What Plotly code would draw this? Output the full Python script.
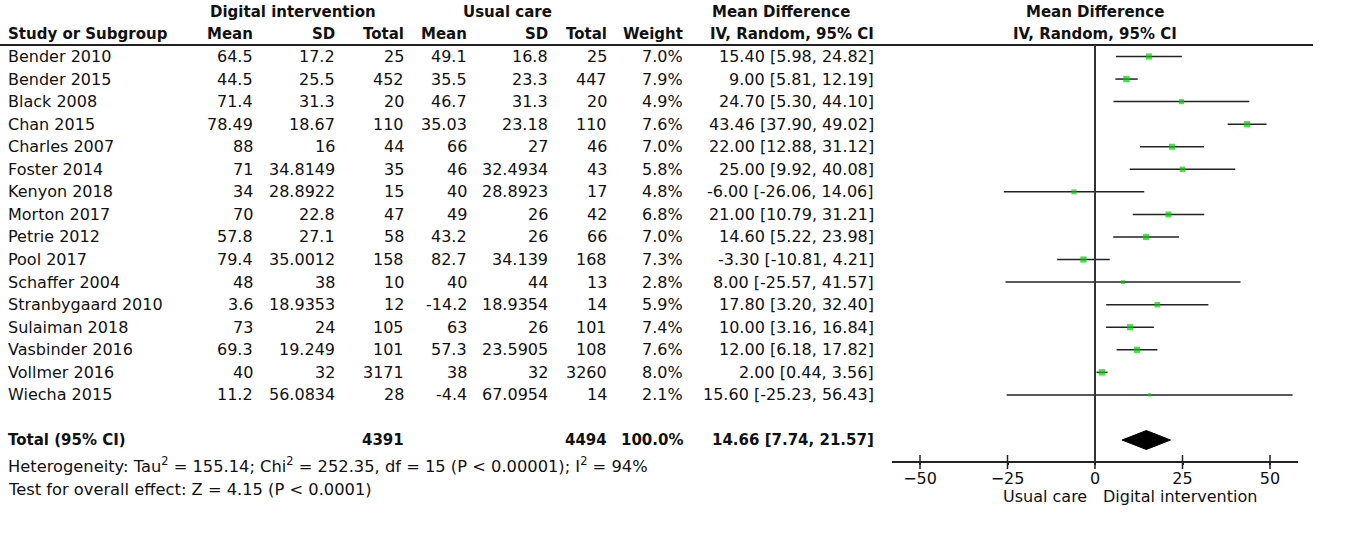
import plotly.graph_objects as go

# ---------------- data ----------------
studies = ["Bender 2010", "Bender 2015", "Black 2008", "Chan 2015", "Charles 2007",
           "Foster 2014", "Kenyon 2018", "Morton 2017", "Petrie 2012", "Pool 2017",
           "Schaffer 2004", "Stranbygaard 2010", "Sulaiman 2018", "Vasbinder 2016",
           "Vollmer 2016", "Wiecha 2015"]
mean_d = [64.5, 44.5, 71.4, 78.49, 88, 71, 34, 70, 57.8, 79.4, 48, 3.6, 73, 69.3, 40, 11.2]
sd_d = [17.2, 25.5, 31.3, 18.67, 16, 34.8149, 28.8922, 22.8, 27.1, 35.0012, 38, 18.9353,
        24, 19.249, 32, 56.0834]
n_d = [25, 452, 20, 110, 44, 35, 15, 47, 58, 158, 10, 12, 105, 101, 3171, 28]
mean_u = [49.1, 35.5, 46.7, 35.03, 66, 46, 40, 49, 43.2, 82.7, 40, -14.2, 63, 57.3, 38, -4.4]
sd_u = [16.8, 23.3, 31.3, 23.18, 27, 32.4934, 28.8923, 26, 26, 34.139, 44, 18.9354,
        26, 23.5905, 32, 67.0954]
n_u = [25, 447, 20, 110, 46, 43, 17, 42, 66, 168, 13, 14, 101, 108, 3260, 14]
weights = [7.0, 7.9, 4.9, 7.6, 7.0, 5.8, 4.8, 6.8, 7.0, 7.3, 2.8, 5.9, 7.4, 7.6, 8.0, 2.1]
md = [15.40, 9.00, 24.70, 43.46, 22.00, 25.00, -6.00, 21.00, 14.60, -3.30, 8.00, 17.80,
      10.00, 12.00, 2.00, 15.60]
ci_lo = [5.98, 5.81, 5.30, 37.90, 12.88, 9.92, -26.06, 10.79, 5.22, -10.81, -25.57, 3.20,
         3.16, 6.18, 0.44, -25.23]
ci_hi = [24.82, 12.19, 44.10, 49.02, 31.12, 40.08, 14.06, 31.21, 23.98, 4.21, 41.57, 32.40,
         16.84, 17.82, 3.56, 56.43]

total_n_d = 4391
total_n_u = 4494
total_weight = 100.0
total_md = 14.66
total_lo = 7.74
total_hi = 21.57

heterogeneity = "Heterogeneity: Tau<sup>2</sup> = 155.14; Chi<sup>2</sup> = 252.35, df = 15 (P < 0.00001); I<sup>2</sup> = 94%"
overall = "Test for overall effect: Z = 4.15 (P < 0.0001)"

tick_vals = [-50, -25, 0, 25, 50]
label_left = "Usual care"
label_right = "Digital intervention"

# ---------------- layout constants ----------------
W, H = 1359, 536
FONT = "DejaVu Sans"
FS_B = 15     # bold header size
FS = 16       # regular text size
FS_FOOT = 16.3
TXT = "#111111"
LINE = "#222222"
GREEN = "#00d000"

row0_px = 56.5
pitch = 22.56
def px_to_row(p):
    return (p - row0_px) / pitch

total_row = 17
header_line_row = px_to_row(45)
axis_row = px_to_row(462)
het_row = px_to_row(465)
test_row = px_to_row(489)
axlabel_row = px_to_row(496)
hdr1_row = px_to_row(12)
hdr2_row = px_to_row(34)

# column right edges (px)
col_x = {"mean_d": 255, "sd_d": 337, "n_d": 406, "mean_u": 469, "sd_u": 550,
         "n_u": 609, "w": 685, "ci": 876}
LEFT_X = 6

def fmt(v):
    return f"{v:g}"

fig = go.Figure()

annotations = []
def ann(text, px, row, anchor="right", bold=False, size=None):
    if size is None:
        size = FS_B if bold else FS
    t = f"<b>{text}</b>" if bold else text
    annotations.append(dict(text=t, x=px / W, xref="paper", y=row, yref="y",
                            xanchor=anchor, yanchor="middle", showarrow=False,
                            font=dict(family=FONT, size=size, color=TXT)))

# headers
ann("Digital intervention", 293, hdr1_row, "center", True)
ann("Usual care", 507, hdr1_row, "center", True)
ann("Mean Difference", 781, hdr1_row, "center", True)
ann("Study or Subgroup", LEFT_X, hdr2_row, "left", True)
ann("Mean", col_x["mean_d"], hdr2_row, "right", True)
ann("SD", col_x["sd_d"], hdr2_row, "right", True)
ann("Total", col_x["n_d"], hdr2_row, "right", True)
ann("Mean", col_x["mean_u"], hdr2_row, "right", True)
ann("SD", col_x["sd_u"], hdr2_row, "right", True)
ann("Total", col_x["n_u"], hdr2_row, "right", True)
ann("Weight", col_x["w"], hdr2_row, "right", True)
ann("IV, Random, 95% CI", col_x["ci"], hdr2_row, "right", True)
# plot header
annotations.append(dict(text="<b>Mean Difference</b>", x=0, xref="x", y=hdr1_row, yref="y",
                        xanchor="center", yanchor="middle", showarrow=False,
                        font=dict(family=FONT, size=FS_B, color=TXT)))
annotations.append(dict(text="<b>IV, Random, 95% CI</b>", x=0, xref="x", y=hdr2_row, yref="y",
                        xanchor="center", yanchor="middle", showarrow=False,
                        font=dict(family=FONT, size=FS_B, color=TXT)))

# study rows
for i, s in enumerate(studies):
    ann(s, LEFT_X, i, "left")
    ann(fmt(mean_d[i]), col_x["mean_d"], i)
    ann(fmt(sd_d[i]), col_x["sd_d"], i)
    ann(str(n_d[i]), col_x["n_d"], i)
    ann(fmt(mean_u[i]), col_x["mean_u"], i)
    ann(fmt(sd_u[i]), col_x["sd_u"], i)
    ann(str(n_u[i]), col_x["n_u"], i)
    ann(f"{weights[i]:.1f}%", col_x["w"], i)
    ann(f"{md[i]:.2f} [{ci_lo[i]:.2f}, {ci_hi[i]:.2f}]", col_x["ci"], i)

# total row
ann("Total (95% CI)", LEFT_X, total_row, "left", True)
ann(str(total_n_d), col_x["n_d"], total_row, "right", True)
ann(str(total_n_u), col_x["n_u"], total_row, "right", True)
ann(f"{total_weight:.1f}%", col_x["w"], total_row, "right", True)
ann(f"{total_md:.2f} [{total_lo:.2f}, {total_hi:.2f}]", col_x["ci"], total_row, "right", True)

ann(heterogeneity, LEFT_X, het_row, "left", size=FS_FOOT)
ann(overall, LEFT_X, test_row, "left", size=FS_FOOT)

# axis direction labels
annotations.append(dict(text=label_left, x=-1.8, xref="x", y=axlabel_row, yref="y",
                        xanchor="right", yanchor="middle", showarrow=False,
                        font=dict(family=FONT, size=FS, color=TXT)))
annotations.append(dict(text=label_right, x=1.8, xref="x", y=axlabel_row, yref="y",
                        xanchor="left", yanchor="middle", showarrow=False,
                        font=dict(family=FONT, size=FS, color=TXT)))

# CI lines
xs, ys = [], []
for i in range(len(studies)):
    xs += [ci_lo[i], ci_hi[i], None]
    ys += [i, i, None]
fig.add_trace(go.Scatter(x=xs, y=ys, mode="lines", line=dict(color=LINE, width=1.5),
                         hoverinfo="skip", showlegend=False))

# squares
fig.add_trace(go.Scatter(x=md, y=list(range(len(studies))), mode="markers",
                         marker=dict(symbol="square", color=GREEN,
                                     size=[2.3 * w ** 0.5 for w in weights], line=dict(width=0)),
                         showlegend=False, hoverinfo="skip"))

# diamond
h = 0.42
fig.add_trace(go.Scatter(x=[total_lo, total_md, total_hi, total_md, total_lo],
                         y=[total_row, total_row - h, total_row, total_row + h, total_row],
                         mode="lines", fill="toself", fillcolor="black",
                         line=dict(color="black", width=1), showlegend=False, hoverinfo="skip"))

# tick crossings
fig.add_trace(go.Scatter(x=tick_vals, y=[axis_row] * len(tick_vals), mode="markers",
                         marker=dict(symbol="line-ns", size=10, line=dict(color=LINE, width=1.5)),
                         showlegend=False, hoverinfo="skip"))

shapes = [
    dict(type="line", xref="paper", yref="y", x0=0, x1=1313 / W, y0=header_line_row,
         y1=header_line_row, line=dict(color=LINE, width=2)),
    dict(type="line", xref="x", yref="y", x0=0, x1=0, y0=header_line_row, y1=axis_row,
         line=dict(color="#333333", width=2)),
]

fig.update_layout(
    width=W, height=H, autosize=False,
    margin=dict(l=0, r=0, t=0, b=0),
    paper_bgcolor="white", plot_bgcolor="rgba(0,0,0,0)",
    showlegend=False,
    annotations=annotations, shapes=shapes,
    font=dict(family=FONT, size=FS, color=TXT),
    xaxis=dict(domain=[892 / W, 1298 / W], range=[-58, 58], anchor="free",
               position=1 - 462 / H, showline=True, linecolor=LINE, linewidth=1.5,
               ticks="outside", ticklen=2, tickwidth=1.5, tickcolor=LINE,
               tickvals=tick_vals, showgrid=False, zeroline=False,
               tickfont=dict(family=FONT, size=FS, color=TXT), fixedrange=True),
    yaxis=dict(domain=[0, 1], range=[px_to_row(H), px_to_row(0)], visible=False,
               showgrid=False, zeroline=False, fixedrange=True),
)

fig.write_html("out.html", post_script="document.body.style.margin='0';",
               config={"displayModeBar": False})
